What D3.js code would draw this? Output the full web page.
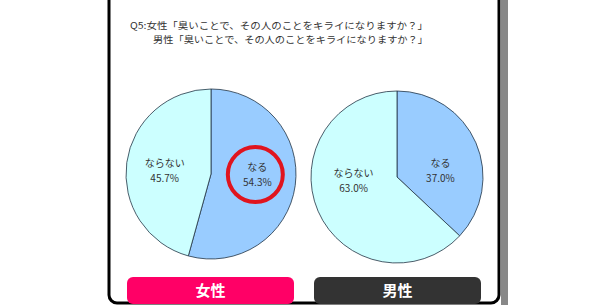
<!DOCTYPE html>
<html><head><meta charset="utf-8">
<script src="https://cdn.jsdelivr.net/npm/d3@7"></script>
<style>body{margin:0;background:#fff}svg{display:block}</style>
</head><body>
<svg id="c" width="615" height="305"></svg>
<script>
const titleLines = ["Q5:女性「臭いことで、その人のことをキライになりますか？」", "男性「臭いことで、その人のことをキライになりますか？」"];
const categories = ["なる", "ならない"];
const groups = ["女性", "男性"];
const womenValues = [54.3, 45.7];
const menValues = [37.0, 63.0];
const colors = ["#99CCFF", "#CCFFFF"];
const buttonColors = ["#FF0066", "#333333"];

const svg = d3.select("#c");
const jp = "'Noto Sans CJK JP', sans-serif";

// frame
svg.append("rect").attr("x", 501).attr("y", 0).attr("width", 7).attr("height", 305).attr("fill", "#888");
svg.append("rect").attr("x", 109).attr("y", -12).attr("width", 390).attr("height", 315)
  .attr("rx", 8).attr("fill", "#fff").attr("stroke", "#000").attr("stroke-width", 3);

// title
svg.append("text").attr("x", 130).attr("y", 29).attr("font-family", jp).attr("font-size", 9.5)
  .attr("fill", "#333").attr("textLength", 298).attr("lengthAdjust", "spacingAndGlyphs").text(titleLines[0]);
svg.append("text").attr("x", 153).attr("y", 43).attr("font-family", jp).attr("font-size", 9.5)
  .attr("fill", "#333").attr("textLength", 275).attr("lengthAdjust", "spacingAndGlyphs").text(titleLines[1]);

const pies = [
  {values: womenValues, cx: 211, cy: 174, r: 85},
  {values: menValues, cx: 397, cy: 177, r: 86}
];
const pie = d3.pie().sort(null).value(d => d);

pies.forEach((p, pi) => {
  const g = svg.append("g").attr("transform", `translate(${p.cx},${p.cy})`);
  const arc = d3.arc().innerRadius(0).outerRadius(p.r);
  const labelArc = d3.arc().innerRadius(p.r * 0.55).outerRadius(p.r * 0.55);
  const arcs = pie(p.values);
  g.selectAll("path").data(arcs).join("path")
    .attr("d", arc).attr("fill", (d, i) => colors[i])
    .attr("stroke", "#223344").attr("stroke-width", 0.8);
  arcs.forEach((d, i) => {
    const c = labelArc.centroid(d);
    const x = c[0], y = c[1] * 0.25 - 2;
    const t = g.append("text").attr("font-family", jp).attr("font-size", 10).attr("fill", "#333")
      .attr("text-anchor", "middle");
    t.append("tspan").attr("x", x).attr("y", y - 3).text(categories[i]);
    t.append("tspan").attr("x", x).attr("y", y + 12).text(d3.format(".1f")(p.values[i]) + "%");
    if (pi === 0 && i === 0) {
      g.append("circle").attr("cx", x - 2).attr("cy", y + 1).attr("r", 27.5)
        .attr("fill", "none").attr("stroke", "#E0141E").attr("stroke-width", 4);
    }
  });
});

// buttons
const bx = d3.scaleBand().domain(groups).range([127, 481]).paddingInner(0.107);
groups.forEach((gname, i) => {
  svg.append("rect").attr("x", bx(gname)).attr("y", 277).attr("width", bx.bandwidth()).attr("height", 27)
    .attr("rx", 6).attr("fill", buttonColors[i]);
  svg.append("text").attr("x", bx(gname) + bx.bandwidth() / 2).attr("y", 296)
    .attr("text-anchor", "middle").attr("font-family", jp).attr("font-weight", "bold")
    .attr("font-size", 15).attr("fill", "#fff").text(gname);
});
</script>
</body></html>
